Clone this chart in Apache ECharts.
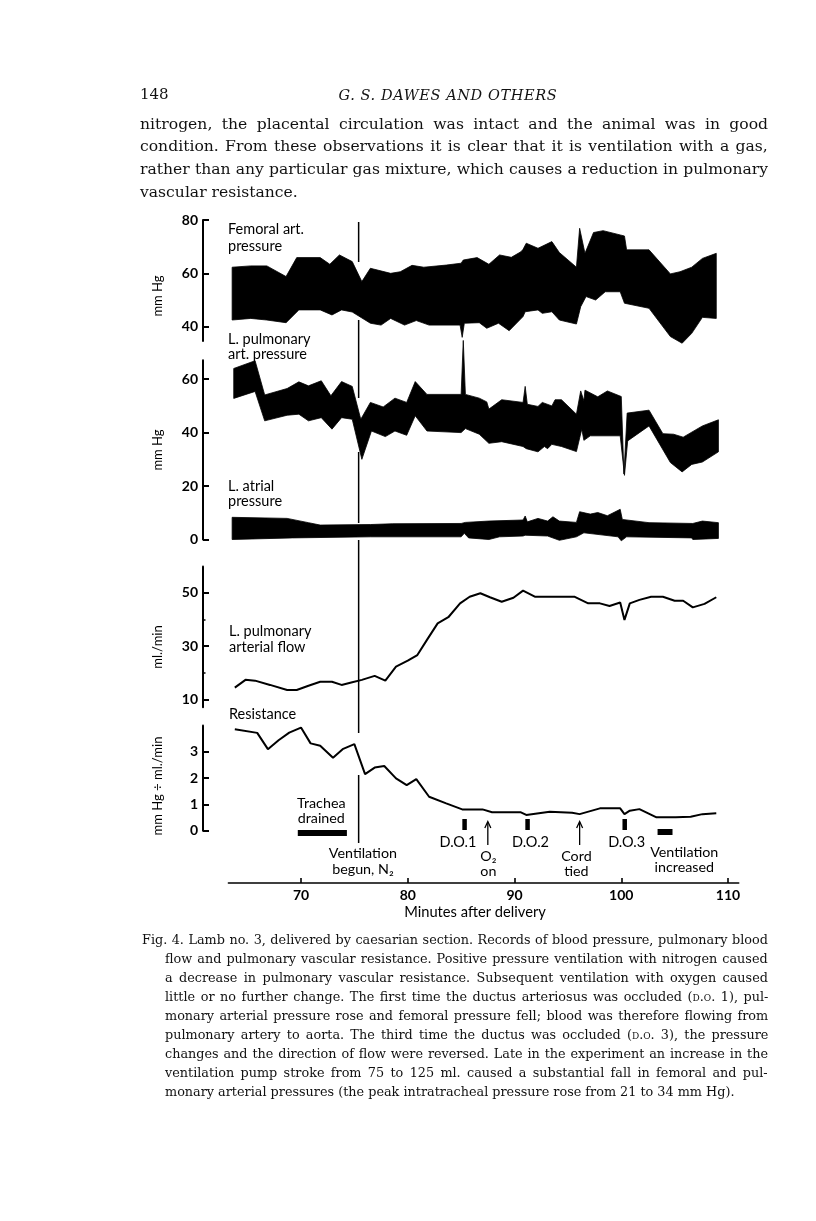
<!DOCTYPE html>
<html>
<head>
<meta charset="utf-8">
<script src="https://cdn.jsdelivr.net/npm/echarts@6/dist/echarts.min.js"></script>
<style>
  html, body { margin: 0; padding: 0; background: #fff; }
  #page { position: relative; width: 816px; height: 1221px; overflow: hidden; }
  #chart { position: absolute; left: 0; top: 0; width: 816px; height: 1221px; }
  .ln { position: absolute; white-space: nowrap; font-family: "DejaVu Serif", serif; color: #111; }
  .sc { font-variant: small-caps; }
</style>
</head>
<body>
<div id="page"><div id="chart"></div></div>
<script>
// ---- data (minutes after delivery, value) ----
var xTicks = [70, 80, 90, 100, 110];

var femoralTop = [[63.55,62.3],[65.3,62.8],[66.8,62.8],[68.6,58.8],[69.6,65.9],[71.8,65.9],[72.7,63.4],[73.6,66.9],[74.8,64.4],[75.7,56.9],[76.5,61.9],[78.4,60.0],[79.3,60.6],[80.4,63.0],[81.5,62.3],[83.6,63.1],[85.0,63.8],[85.2,65.0],[86.5,65.9],[87.6,63.4],[88.6,66.9],[89.7,66.0],[90.6,68.1],[90.8,69.0],[91.1,71.3],[92.2,69.4],[93.5,71.9],[94.2,67.8],[95.8,62.3],[96.1,76.9],[96.6,67.5],[97.4,75.3],[98.3,76.0],[99.9,74.4],[100.3,74.0],[100.5,68.8],[102.6,68.8],[104.6,59.8],[105.5,60.6],[106.6,62.3],[107.6,65.6],[108.9,67.5]];
var femoralBottom = [[63.55,42.5],[65.3,43.1],[66.8,42.5],[68.6,41.5],[69.8,46.3],[71.8,46.3],[72.9,44.4],[73.8,46.3],[74.8,45.5],[76.5,41.3],[77.5,40.6],[78.4,43.1],[79.7,40.6],[80.8,42.3],[82.0,40.6],[84.9,40.6],[85.1,36.0],[85.3,41.3],[86.7,41.5],[87.4,39.4],[88.5,41.3],[89.5,38.5],[90.8,43.8],[91.0,45.6],[92.2,46.3],[92.6,45.0],[93.5,45.6],[94.2,42.5],[95.8,41.0],[96.2,47.5],[96.7,51.3],[97.6,50.0],[98.5,53.1],[99.9,53.1],[100.3,48.8],[102.6,46.9],[104.6,36.3],[105.7,33.8],[106.6,37.5],[107.6,43.5],[108.9,43.1]];

var pulmTop = [[63.7,64.0],[65.7,66.9],[66.6,54.1],[68.7,56.5],[69.8,59.0],[70.7,57.5],[71.9,59.4],[72.8,53.8],[73.8,59.1],[74.8,57.3],[75.6,45.0],[76.5,51.3],[77.7,49.6],[78.8,52.9],[79.9,51.3],[80.7,59.1],[81.8,54.3],[85.0,54.3],[85.2,74.5],[85.4,54.3],[86.7,52.9],[87.4,51.5],[87.6,48.8],[88.8,52.3],[90.8,51.3],[91.0,57.3],[91.2,50.6],[92.2,49.8],[92.6,51.3],[93.5,50.0],[93.8,52.3],[94.4,52.3],[95.8,46.9],[96.2,55.6],[96.5,51.9],[96.6,55.9],[97.8,53.4],[98.7,55.6],[100.0,53.5],[100.25,24.5],[100.55,47.3],[102.6,48.4],[103.9,39.6],[104.9,39.4],[105.8,38.3],[107.6,42.5],[109.1,44.8]];
var pulmBottom = [[63.7,52.8],[65.7,55.4],[66.6,44.4],[68.7,46.5],[69.8,46.9],[70.7,44.4],[71.9,45.6],[72.9,41.3],[73.8,45.6],[74.8,45.0],[75.7,30.0],[76.6,40.6],[77.9,38.5],[78.8,40.6],[79.9,39.0],[80.7,46.3],[81.8,40.6],[85.0,40.0],[85.4,41.5],[86.7,39.4],[87.6,36.0],[88.8,36.6],[90.8,34.8],[91.1,34.0],[92.2,32.8],[92.8,34.8],[93.1,34.0],[93.5,35.6],[94.4,34.8],[95.8,32.9],[96.3,41.3],[96.5,37.1],[97.1,38.8],[99.9,38.8],[100.3,24.0],[100.6,36.9],[102.6,42.5],[104.6,28.8],[105.7,25.3],[106.6,28.1],[107.6,29.0],[109.1,32.8]];

var atrialTop = [[63.55,8.3],[68.7,7.9],[70.7,6.3],[71.8,5.4],[76.5,5.6],[78.6,5.9],[85.0,6.0],[85.4,6.4],[87.6,6.9],[90.8,7.3],[91.0,8.8],[91.2,6.6],[92.2,7.9],[93.1,6.9],[93.6,8.5],[94.2,6.9],[95.8,6.4],[96.1,10.4],[97.1,9.5],[97.8,10.1],[98.7,8.9],[99.9,11.3],[100.1,7.5],[102.6,6.3],[106.7,6.0],[107.6,6.9],[109.1,6.3]];
var atrialBottom = [[63.55,0.0],[69.2,0.6],[76.5,1.0],[85.0,1.0],[85.3,2.3],[85.7,0.6],[87.6,0.0],[88.6,1.0],[90.8,1.3],[91.0,1.6],[93.1,1.3],[94.2,-0.3],[95.8,1.0],[96.5,2.5],[99.7,1.0],[100.0,-0.5],[100.5,1.0],[106.6,0.6],[106.7,0.0],[109.1,0.4]];

var flow = [[63.8,14.4],[64.8,17.3],[65.7,17.0],[67.1,15.4],[68.7,13.5],[69.6,13.5],[70.7,15.1],[71.8,16.6],[72.9,16.6],[73.8,15.4],[74.8,16.4],[75.7,17.3],[76.9,18.8],[77.9,17.0],[78.9,22.3],[80.0,24.5],[80.9,26.6],[81.8,32.3],[82.8,38.5],[83.8,40.8],[84.9,46.0],[85.8,48.5],[86.8,49.8],[87.7,48.3],[88.8,46.6],[89.9,48.1],[90.8,50.8],[91.9,48.5],[93.7,48.5],[95.6,48.5],[96.9,46.0],[98.0,46.0],[98.9,45.0],[99.9,46.3],[100.3,39.8],[100.8,46.0],[101.7,47.3],[102.8,48.5],[103.9,48.5],[105.0,47.0],[105.8,47.0],[106.7,44.5],[107.8,45.8],[108.9,48.3]];

var resistance = [[63.8,3.86],[65.9,3.72],[66.9,3.10],[67.9,3.44],[68.9,3.73],[70.0,3.92],[70.9,3.32],[71.8,3.23],[73.0,2.77],[73.9,3.10],[75.0,3.29],[76.0,2.15],[76.9,2.40],[77.8,2.46],[78.9,1.99],[79.9,1.73],[80.8,1.96],[82.0,1.29],[83.6,1.04],[85.1,0.81],[87.0,0.81],[87.9,0.70],[90.6,0.70],[91.1,0.60],[93.3,0.72],[95.4,0.68],[96.1,0.63],[98.0,0.85],[99.9,0.85],[100.3,0.63],[100.8,0.76],[101.7,0.82],[103.3,0.51],[105.1,0.51],[106.5,0.53],[107.6,0.63],[108.9,0.66]];

// events
var ventilationStart = 75.4;
var ductusOcclusions = [85.3, 91.2, 100.3];
var ductusLabels = [['D.O.1', 84.7], ['D.O.2', 91.5], ['D.O.3', 100.5]];
var arrowEvents = [[87.5, 'O\u2082', 'on', 87.55], [96.1, 'Cord', 'tied', 95.8]];
var tracheaDrained = [69.7, 74.3];
var ventilationIncreased = [103.4, 104.8];

var bodyLines = [
  'nitrogen, the placental circulation was intact and the animal was in good',
  'condition. From these observations it is clear that it is ventilation with a gas,',
  'rather than any particular gas mixture, which causes a reduction in pulmonary',
  'vascular resistance.'
];
var captionLines = [
  'Fig. 4. Lamb no. 3, delivered by caesarian section. Records of blood pressure, pulmonary blood',
  'flow and pulmonary vascular resistance. Positive pressure ventilation with nitrogen caused',
  'a decrease in pulmonary vascular resistance. Subsequent ventilation with oxygen caused',
  'little or no further change. The first time the ductus arteriosus was occluded (<span class="sc">d.o.</span> 1), pul-',
  'monary arterial pressure rose and femoral pressure fell; blood was therefore flowing from',
  'pulmonary artery to aorta. The third time the ductus was occluded (<span class="sc">d.o.</span> 3), the pressure',
  'changes and the direction of flow were reversed. Late in the experiment an increase in the',
  'ventilation pump stroke from 75 to 125 ml. caused a substantial fall in femoral and pul-',
  'monary arterial pressures (the peak intratracheal pressure rose from 21 to 34 mm Hg).'
];

// ---- page text ----
var page = document.getElementById('page');
function addLine(html, left, right, cy, size, justify, extraCss) {
  var d = document.createElement('div');
  d.className = 'ln';
  d.style.left = left + 'px';
  d.style.fontSize = size + 'px';
  d.style.lineHeight = (size * 1.3) + 'px';
  d.style.top = (cy - size * 0.65) + 'px';
  if (extraCss) d.style.cssText += extraCss;
  d.innerHTML = html;
  page.appendChild(d);
  if (justify) {
    var w = d.offsetWidth;
    var n = (d.textContent.match(/ /g) || []).length;
    var extra = (right - left) - w;
    if (extra >= 0 && n) d.style.wordSpacing = (extra / n) + 'px';
    else d.style.letterSpacing = (extra / d.textContent.length) + 'px';
  }
  return d;
}
addLine('148', 140, 0, 95, 15, false);
var hd = addLine('G. S. DAWES AND OTHERS', 0, 0, 95, 14.5, false, 'font-style:italic;letter-spacing:0.6px;');
hd.style.left = (448 - hd.offsetWidth / 2) + 'px';
bodyLines.forEach(function (t, i) {
  addLine(t, 140, 768, 124 + i * 22.6, 15.6, i < bodyLines.length - 1);
});
captionLines.forEach(function (t, i) {
  addLine(t, i === 0 ? 142 : 165, 768, 940 + i * 19, 12.8, i < captionLines.length - 1);
});

// ---- chart ----
var chart = echarts.init(document.getElementById('chart'), null, { renderer: 'canvas' });
var FONT = 'Lato, "DejaVu Sans", sans-serif';
var L = 228.4, R = 77.3, X_MIN = 63.2, X_MAX = 111;

function yAx(grid, min, max, vals) {
  return {
    type: 'value', gridIndex: grid, min: min, max: max, offset: 25.4, position: 'left',
    axisLine: { show: true, lineStyle: { color: '#000', width: 2 } },
    axisTick: { show: true, inside: true, length: 6, lineStyle: { color: '#000', width: 2 }, customValues: vals },
    axisLabel: { customValues: vals, margin: 5, color: '#000', fontFamily: FONT, fontSize: 14, fontWeight: 'bold' },
    splitLine: { show: false }
  };
}
function band(top, bottom, xi, yi) {
  return {
    type: 'custom', xAxisIndex: xi, yAxisIndex: yi, clip: false, silent: true, animation: false,
    data: [top[0]],
    renderItem: function (params, api) {
      var pts = top.concat(bottom.slice().reverse()).map(function (p) { return api.coord(p); });
      return { type: 'polygon', shape: { points: pts }, style: { fill: '#000', stroke: '#000', lineWidth: 0.8 } };
    }
  };
}
var hiddenX = function (g) { return { type: 'value', gridIndex: g, min: X_MIN, max: X_MAX, show: false }; };

var option = {
  animation: false,
  grid: [
    { left: L, right: R, top: 220, height: 121.1 },
    { left: L, right: R, top: 360.2, height: 179.3 },
    { left: L, right: R, top: 566.6, height: 140.7 },
    { left: L, right: R, top: 725.5, height: 105.2 },
    { left: L, right: R, top: 800, height: 83 }
  ],
  xAxis: [hiddenX(0), hiddenX(1), hiddenX(2), hiddenX(3), {
    type: 'value', gridIndex: 4, min: X_MIN, max: X_MAX,
    axisLine: { show: true, lineStyle: { color: '#000', width: 1.6 } },
    axisTick: { show: true, inside: true, length: 5, lineStyle: { color: '#000', width: 1.6 }, customValues: xTicks },
    axisLabel: { customValues: xTicks, margin: 5, color: '#000', fontFamily: FONT, fontSize: 14, fontWeight: 'bold' },
    splitLine: { show: false }
  }],
  yAxis: [
    yAx(0, 34.6, 80, [40, 60, 80]),
    yAx(1, 0, 67.1, [0, 20, 40, 60]),
    yAx(2, 7, 59.8, [10, 30, 50]),
    { type: 'value', gridIndex: 2, min: 7, max: 59.8, offset: 25.4, position: 'left',
      axisLine: { show: false },
      axisTick: { show: true, inside: true, length: 2.5, lineStyle: { color: '#000', width: 1.5 }, customValues: [20, 40] },
      axisLabel: { show: false }, splitLine: { show: false } },
    yAx(3, 0, 4, [0, 1, 2, 3]),
    { type: 'value', gridIndex: 4, min: 0, max: 1, show: false }
  ],
  series: [
    band(femoralTop, femoralBottom, 0, 0),
    band(pulmTop, pulmBottom, 1, 1),
    band(atrialTop, atrialBottom, 1, 1),
    { type: 'line', xAxisIndex: 2, yAxisIndex: 2, data: flow, symbol: 'none', silent: true,
      lineStyle: { color: '#000', width: 2 } },
    { type: 'line', xAxisIndex: 3, yAxisIndex: 4, data: resistance, symbol: 'none', silent: true,
      lineStyle: { color: '#000', width: 2 } }
  ]
};
chart.setOption(option);

// ---- annotations ----
function px(t) { return chart.convertToPixel({ xAxisIndex: 4 }, t); }
function txt(s, x, y, align, size, rot) {
  return { type: 'text', x: x, y: y, rotation: rot || 0, silent: true,
    style: { text: s, fill: '#000', fontFamily: FONT, fontSize: size || 14.3, align: align || 'left', verticalAlign: 'middle' } };
}
function seg(x1, y1, x2, y2, w) {
  return { type: 'line', silent: true, shape: { x1: x1, y1: y1, x2: x2, y2: y2 }, style: { stroke: '#000', lineWidth: w || 1.5 } };
}
function rect(x, y, w, h) {
  return { type: 'rect', silent: true, shape: { x: x, y: y, width: w, height: h }, style: { fill: '#000' } };
}

var g = [];
// panel names
g.push(txt('Femoral art.', 228, 229, 'left', 14.5), txt('pressure', 228, 246, 'left', 14.5));
g.push(txt('L. pulmonary', 228, 339, 'left', 14.5), txt('art. pressure', 228, 354, 'left', 14.5));
g.push(txt('L. atrial', 228, 486, 'left', 14.5), txt('pressure', 228, 501, 'left', 14.5));
g.push(txt('L. pulmonary', 229, 631, 'left', 14.5), txt('arterial flow', 229, 647, 'left', 14.5));
g.push(txt('Resistance', 229, 714, 'left', 14.5));
// axis names
g.push(txt('mm Hg', 158, 296, 'center', 13, Math.PI / 2));
g.push(txt('mm Hg', 158, 450, 'center', 13, Math.PI / 2));
g.push(txt('ml./min', 158, 647, 'center', 13, Math.PI / 2));
g.push(txt('mm Hg \u00f7 ml./min', 158, 786, 'center', 13, Math.PI / 2));
g.push(txt('Minutes after delivery', 475, 912, 'center', 14.7));

// ventilation begun line
var vx = px(ventilationStart);
[[222, 262], [320, 398], [452, 523], [540, 733], [775, 843]].forEach(function (s) {
  g.push(seg(vx, s[0], vx, s[1], 1.5));
});
g.push(txt('Ventilation', px(75.8), 853, 'center'), txt('begun, N\u2082', px(75.8), 869, 'center'));

// trachea drained
var tx0 = px(tracheaDrained[0]), tx1 = px(tracheaDrained[1]);
g.push(rect(tx0, 830, tx1 - tx0, 6));
g.push(txt('Trachea', px(71.9), 803, 'center'), txt('drained', px(71.9), 818, 'center'));

// ductus occlusions
ductusOcclusions.forEach(function (t) { g.push(rect(px(t) - 2, 819, 4.5, 11)); });
ductusLabels.forEach(function (d) { g.push(txt(d[0], px(d[1]), 842, 'center', 14.5)); });

// arrows
arrowEvents.forEach(function (a) {
  var ax = px(a[0]);
  g.push(seg(ax, 845, ax, 822, 1.3));
  g.push({ type: 'polyline', silent: true, shape: { points: [[ax - 3, 828], [ax, 821.5], [ax + 3, 828]] },
    style: { stroke: '#000', lineWidth: 1.3, fill: null } });
  g.push(txt(a[1], px(a[3]), 856, 'center'), txt(a[2], px(a[3]), 871, 'center'));
});

// ventilation increased
var vi0 = px(ventilationIncreased[0]), vi1 = px(ventilationIncreased[1]);
g.push(rect(vi0, 829, vi1 - vi0, 6));
g.push(txt('Ventilation', px(105.9), 852, 'center'), txt('increased', px(105.9), 867, 'center'));

chart.setOption({ graphic: { elements: g } });
</script>
</body>
</html>
